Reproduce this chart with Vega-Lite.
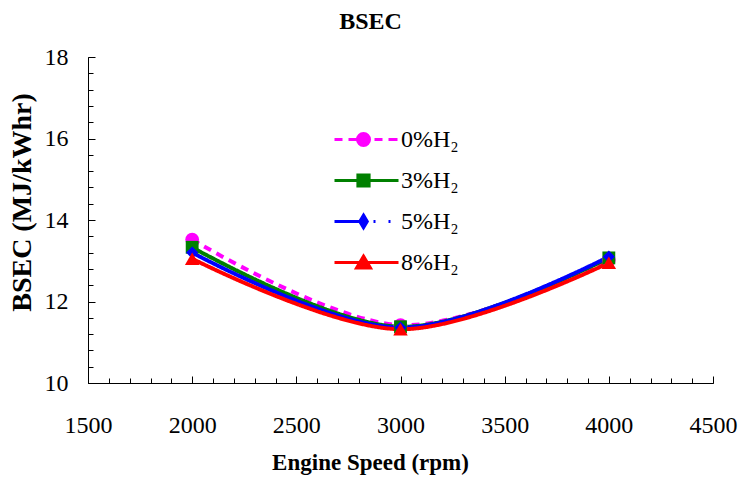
{
  "$schema": "https://vega.github.io/schema/vega-lite/v6.json",
  "width": 625,
  "height": 326,
  "autosize": "none",
  "padding": {"left": 88, "top": 57, "right": 30, "bottom": 100},
  "config": {"view": {"stroke": null}, "font": "Liberation Serif"},
  "title": {"text": "BSEC", "font": "Liberation Serif", "fontSize": 24, "fontWeight": "bold", "color": "black", "offset": 11, "dx": -30},
  "data": {
    "values": [
      {"rpm": 2000, "bsec": 13.52, "s": "0%H₂"},
      {"rpm": 3000, "bsec": 11.42, "s": "0%H₂"},
      {"rpm": 4000, "bsec": 13.02, "s": "0%H₂"},
      {"rpm": 2000, "bsec": 13.33, "s": "3%H₂"},
      {"rpm": 3000, "bsec": 11.38, "s": "3%H₂"},
      {"rpm": 4000, "bsec": 13.07, "s": "3%H₂"},
      {"rpm": 2000, "bsec": 13.2, "s": "5%H₂"},
      {"rpm": 3000, "bsec": 11.36, "s": "5%H₂"},
      {"rpm": 4000, "bsec": 13.1, "s": "5%H₂"},
      {"rpm": 2000, "bsec": 13.05, "s": "8%H₂"},
      {"rpm": 3000, "bsec": 11.32, "s": "8%H₂"},
      {"rpm": 4000, "bsec": 12.95, "s": "8%H₂"}
    ]
  },
  "resolve": {"axis": {"x": "independent", "y": "independent"}},
  "layer": [
    {
      "mark": {"type": "line", "interpolate": "catmull-rom", "strokeWidth": 4},
      "encoding": {
        "x": {"field": "rpm", "type": "quantitative",
          "scale": {"domain": [1500, 4500], "nice": false, "zero": false},
          "axis": {"orient": "bottom", "values": [1500, 2000, 2500, 3000, 3500, 4000, 4500], "format": "d", "tickSize": -7, "tickColor": "black", "domainColor": "black", "labelPadding": 37, "labelFont": "Liberation Serif", "labelFontSize": 24, "labelColor": "black", "labelFlush": false, "labelOverlap": false, "grid": false, "title": "Engine Speed (rpm)", "titleFont": "Liberation Serif", "titleFontSize": 23, "titleFontWeight": "bold", "titleColor": "black", "titlePadding": 14, "titleX": 282}},
        "y": {"field": "bsec", "type": "quantitative",
          "scale": {"domain": [10, 18], "nice": false, "zero": false},
          "axis": {"orient": "left", "values": [10, 12, 14, 16, 18], "format": "d", "tickSize": -7, "tickColor": "black", "domainColor": "black", "labelPadding": 27, "labelFont": "Liberation Serif", "labelFontSize": 24, "labelColor": "black", "labelFlush": false, "labelOverlap": false, "grid": false, "title": "BSEC (MJ/kWhr)", "titleFont": "Liberation Serif", "titleFontSize": 28, "titleFontWeight": "bold", "titleColor": "black", "titlePadding": 8, "titleY": 145}},
        "color": {"field": "s", "type": "nominal", "scale": {"range": ["#FF00FF", "#008000", "#0000FF", "#FF0000"]}, "legend": null},
        "strokeDash": {"field": "s", "type": "nominal", "scale": {"range": [[8, 6], [1, 0], [1, 0], [1, 0]]}, "legend": null}
      }
    },
    {
      "transform": [{"filter": "datum.s === '0%H₂'"}],
      "mark": {"type": "point", "filled": true, "size": 190, "opacity": 1, "shape": "circle"},
      "encoding": {
        "x": {"field": "rpm", "type": "quantitative", "axis": null},
        "y": {"field": "bsec", "type": "quantitative", "axis": null},
        "color": {"field": "s", "type": "nominal", "legend": null}
      }
    },
    {
      "transform": [{"filter": "datum.s === '3%H₂'"}],
      "mark": {"type": "point", "filled": true, "size": 165, "opacity": 1, "shape": "square"},
      "encoding": {
        "x": {"field": "rpm", "type": "quantitative", "axis": null},
        "y": {"field": "bsec", "type": "quantitative", "axis": null},
        "color": {"field": "s", "type": "nominal", "legend": null}
      }
    },
    {
      "transform": [{"filter": "datum.s === '5%H₂'"}],
      "mark": {"type": "point", "filled": true, "size": 150, "opacity": 1, "shape": "diamond"},
      "encoding": {
        "x": {"field": "rpm", "type": "quantitative", "axis": null},
        "y": {"field": "bsec", "type": "quantitative", "axis": null},
        "color": {"field": "s", "type": "nominal", "legend": null}
      }
    },
    {
      "transform": [{"filter": "datum.s === '8%H₂'"}],
      "mark": {"type": "point", "filled": true, "size": 210, "opacity": 1, "shape": "triangle-up"},
      "encoding": {
        "x": {"field": "rpm", "type": "quantitative", "axis": null},
        "y": {"field": "bsec", "type": "quantitative", "axis": null},
        "color": {"field": "s", "type": "nominal", "legend": null}
      }
    },
    {
      "transform": [{"filter": "datum.rpm > 100000"}],
      "mark": {"type": "point", "filled": true, "size": 1600, "strokeWidth": 3, "opacity": 1},
      "encoding": {
        "x": {"field": "rpm", "type": "quantitative", "axis": null},
        "y": {"field": "bsec", "type": "quantitative", "axis": null},
        "fill": {"field": "s", "type": "nominal", "scale": {"domain": ["0%H₂", "3%H₂", "5%H₂", "8%H₂"], "range": ["#FF00FF", "#008000", "#0000FF", "#FF0000"]},
          "legend": {"orient": "none", "legendX": 257, "legendY": 61, "title": null, "symbolSize": 1600, "symbolStrokeWidth": 3, "labelFont": "Liberation Serif", "labelFontSize": 24, "labelColor": "black", "labelOffset": 13, "rowPadding": 7, "padding": 0}},
        "stroke": {"field": "s", "type": "nominal", "scale": {"domain": ["0%H₂", "3%H₂", "5%H₂", "8%H₂"], "range": ["#FF00FF", "#008000", "#0000FF", "#FF0000"]},
          "legend": {"orient": "none", "legendX": 257, "legendY": 61, "title": null, "symbolSize": 1600, "symbolStrokeWidth": 3, "labelFont": "Liberation Serif", "labelFontSize": 24, "labelColor": "black", "labelOffset": 13, "rowPadding": 7, "padding": 0}},
        "shape": {"field": "s", "type": "nominal",
          "scale": {"domain": ["0%H₂", "3%H₂", "5%H₂", "8%H₂"], "range": [
            "M-1.6,0L-1.2,0M-0.9,0L-0.5,0M-0.45,0A0.3,0.3 0 1,0 0.15,0A0.3,0.3 0 1,0 -0.45,0ZM0.4,0L0.8,0M1.1,0L1.55,0",
            "M-1.6,0L1.6,0M-0.43,-0.28H0.13V0.28H-0.43Z",
            "M-1.6,0L-0.15,0M-0.15,-0.32L0.04,0L-0.15,0.32L-0.34,0ZM0.35,0L0.45,0M1.1,0L1.2,0",
            "M-1.6,0L1.6,0M-0.15,-0.32L0.2,0.27L-0.5,0.27Z"
          ]},
          "legend": {"orient": "none", "legendX": 257, "legendY": 61, "title": null, "symbolSize": 1600, "symbolStrokeWidth": 3, "labelFont": "Liberation Serif", "labelFontSize": 24, "labelColor": "black", "labelOffset": 13, "rowPadding": 7, "padding": 0}
        }
      }
    },
    {
      "mark": {"type": "point", "opacity": 0},
      "encoding": {
        "x": {"field": "rpm", "type": "quantitative",
          "axis": {"orient": "bottom", "values": [1500, 1600, 1700, 1800, 1900, 2000, 2100, 2200, 2300, 2400, 2500, 2600, 2700, 2800, 2900, 3000, 3100, 3200, 3300, 3400, 3500, 3600, 3700, 3800, 3900, 4000, 4100, 4200, 4300, 4400, 4500], "labels": false, "domain": false, "tickSize": -5, "tickColor": "black", "grid": false, "title": null}},
        "y": {"field": "bsec", "type": "quantitative",
          "axis": {"orient": "left", "values": [10, 10.4, 10.8, 11.2, 11.6, 12, 12.4, 12.8, 13.2, 13.6, 14, 14.4, 14.8, 15.2, 15.6, 16, 16.4, 16.8, 17.2, 17.6, 18], "labels": false, "domain": false, "tickSize": -5, "tickColor": "black", "grid": false, "title": null}}
      }
    }
  ]
}
